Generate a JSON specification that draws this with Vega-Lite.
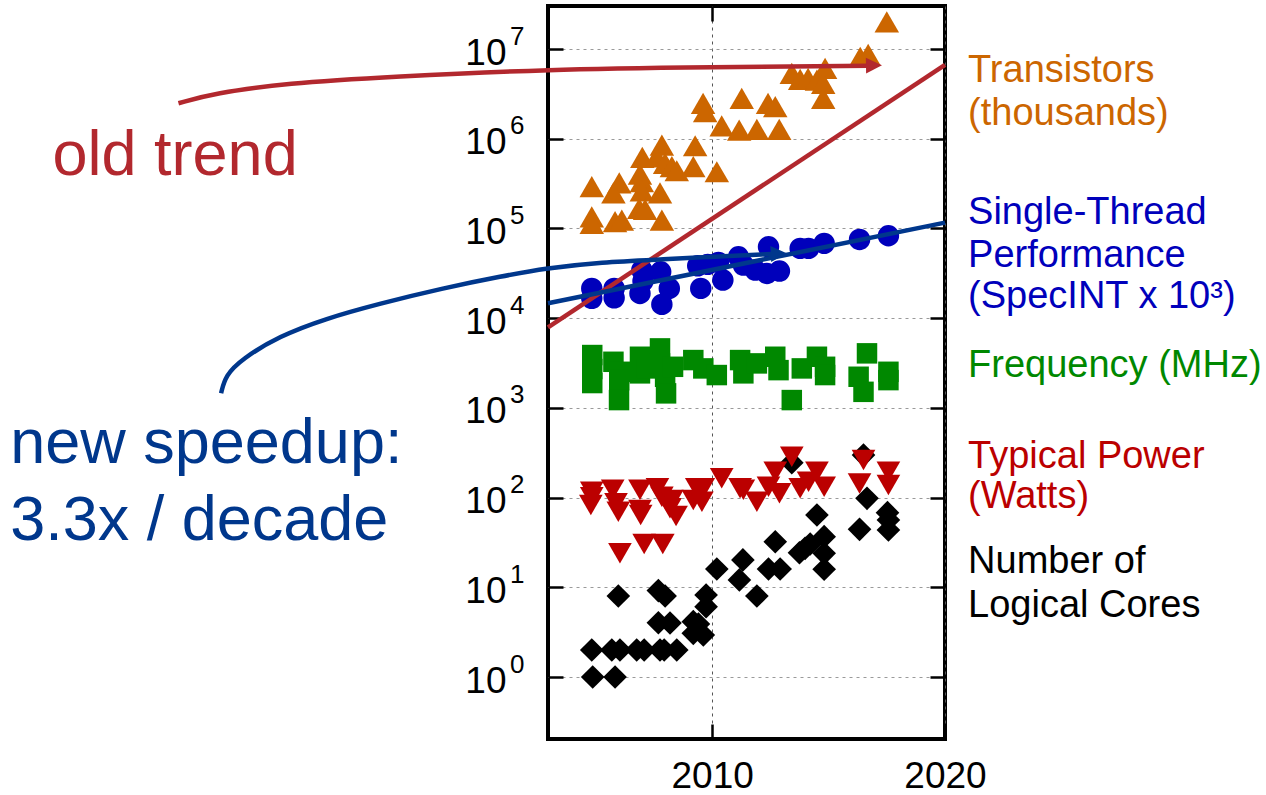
{
  "$schema": "https://vega.github.io/schema/vega-lite/v6.json",
  "width": 397,
  "height": 733,
  "autosize": {"type": "none"},
  "padding": {"left": 548, "top": 6, "right": 321, "bottom": 56},
  "background": "white",
  "config": {
    "view": {"stroke": "black", "strokeWidth": 4},
    "font": "Liberation Sans, Arial, Helvetica, sans-serif",
    "axis": {"labelFont": "Liberation Sans, Arial, Helvetica, sans-serif", "labelColor": "black", "tickColor": "black", "tickWidth": 2.5, "domain": false, "title": null, "labelFlush": false, "labelOverlap": false, "labelBound": false}
  },
  "datasets": {
    "points": [
      {"series": "Cores", "year": 2004.87, "value": 1.0},
      {"series": "Cores", "year": 2005.83, "value": 1.0},
      {"series": "Cores", "year": 2004.83, "value": 2},
      {"series": "Cores", "year": 2005.69, "value": 2},
      {"series": "Cores", "year": 2006.04, "value": 2},
      {"series": "Cores", "year": 2006.76, "value": 2},
      {"series": "Cores", "year": 2007.08, "value": 2},
      {"series": "Cores", "year": 2007.76, "value": 2},
      {"series": "Cores", "year": 2007.94, "value": 2},
      {"series": "Cores", "year": 2008.48, "value": 2},
      {"series": "Cores", "year": 2005.97, "value": 8.0},
      {"series": "Cores", "year": 2007.69, "value": 9.2},
      {"series": "Cores", "year": 2007.98, "value": 8.0},
      {"series": "Cores", "year": 2007.69, "value": 4.03},
      {"series": "Cores", "year": 2008.19, "value": 4.0},
      {"series": "Cores", "year": 2009.19, "value": 4.14},
      {"series": "Cores", "year": 2009.41, "value": 3.9},
      {"series": "Cores", "year": 2009.19, "value": 3.07},
      {"series": "Cores", "year": 2009.62, "value": 2.94},
      {"series": "Cores", "year": 2009.74, "value": 8.2},
      {"series": "Cores", "year": 2009.74, "value": 6.08},
      {"series": "Cores", "year": 2010.20, "value": 16.0},
      {"series": "Cores", "year": 2011.17, "value": 12.1},
      {"series": "Cores", "year": 2011.32, "value": 20.2},
      {"series": "Cores", "year": 2011.92, "value": 8.0},
      {"series": "Cores", "year": 2012.42, "value": 16},
      {"series": "Cores", "year": 2012.92, "value": 16},
      {"series": "Cores", "year": 2012.71, "value": 32.2},
      {"series": "Cores", "year": 2013.42, "value": 245},
      {"series": "Cores", "year": 2016.50, "value": 298},
      {"series": "Cores", "year": 2013.75, "value": 24.3},
      {"series": "Cores", "year": 2013.99, "value": 27.2},
      {"series": "Cores", "year": 2014.21, "value": 30.4},
      {"series": "Cores", "year": 2014.50, "value": 64},
      {"series": "Cores", "year": 2014.81, "value": 36.7},
      {"series": "Cores", "year": 2014.81, "value": 23.9},
      {"series": "Cores", "year": 2014.81, "value": 15.9},
      {"series": "Cores", "year": 2016.65, "value": 98.2},
      {"series": "Cores", "year": 2016.33, "value": 44.3},
      {"series": "Cores", "year": 2017.53, "value": 67.9},
      {"series": "Cores", "year": 2017.57, "value": 56.3},
      {"series": "Cores", "year": 2017.57, "value": 43.5},
      {"series": "Frequency", "year": 2004.85, "value": 3882},
      {"series": "Frequency", "year": 2004.85, "value": 2710},
      {"series": "Frequency", "year": 2004.85, "value": 1892},
      {"series": "Frequency", "year": 2005.76, "value": 3265},
      {"series": "Frequency", "year": 2006.04, "value": 2525},
      {"series": "Frequency", "year": 2006.01, "value": 2040},
      {"series": "Frequency", "year": 2006.00, "value": 1222},
      {"series": "Frequency", "year": 2006.90, "value": 3715},
      {"series": "Frequency", "year": 2006.90, "value": 2427},
      {"series": "Frequency", "year": 2007.19, "value": 2755},
      {"series": "Frequency", "year": 2007.76, "value": 4604},
      {"series": "Frequency", "year": 2007.76, "value": 3133},
      {"series": "Frequency", "year": 2007.98, "value": 2223},
      {"series": "Frequency", "year": 2008.02, "value": 1452},
      {"series": "Frequency", "year": 2008.32, "value": 2871},
      {"series": "Frequency", "year": 2009.19, "value": 3412},
      {"series": "Frequency", "year": 2009.62, "value": 2755},
      {"series": "Frequency", "year": 2010.20, "value": 2323},
      {"series": "Frequency", "year": 2011.20, "value": 3412},
      {"series": "Frequency", "year": 2011.34, "value": 2427},
      {"series": "Frequency", "year": 2011.92, "value": 3133},
      {"series": "Frequency", "year": 2012.71, "value": 3715},
      {"series": "Frequency", "year": 2012.85, "value": 2636},
      {"series": "Frequency", "year": 2013.42, "value": 1222},
      {"series": "Frequency", "year": 2013.85, "value": 2755},
      {"series": "Frequency", "year": 2014.50, "value": 3715},
      {"series": "Frequency", "year": 2014.85, "value": 2871},
      {"series": "Frequency", "year": 2014.85, "value": 2323},
      {"series": "Frequency", "year": 2016.65, "value": 4055},
      {"series": "Frequency", "year": 2016.29, "value": 2223},
      {"series": "Frequency", "year": 2016.50, "value": 1510},
      {"series": "Frequency", "year": 2017.57, "value": 2525},
      {"series": "Frequency", "year": 2017.57, "value": 2040},
      {"series": "Performance", "year": 2004.83, "value": 21480},
      {"series": "Performance", "year": 2004.83, "value": 16630},
      {"series": "Performance", "year": 2005.79, "value": 21480},
      {"series": "Performance", "year": 2005.79, "value": 16870},
      {"series": "Performance", "year": 2006.90, "value": 18880},
      {"series": "Performance", "year": 2006.98, "value": 34360},
      {"series": "Performance", "year": 2007.03, "value": 25930},
      {"series": "Performance", "year": 2007.79, "value": 32890},
      {"series": "Performance", "year": 2008.16, "value": 21480},
      {"series": "Performance", "year": 2007.84, "value": 14250},
      {"series": "Performance", "year": 2009.38, "value": 38370},
      {"series": "Performance", "year": 2009.81, "value": 39800},
      {"series": "Performance", "year": 2010.27, "value": 41900},
      {"series": "Performance", "year": 2009.51, "value": 21480},
      {"series": "Performance", "year": 2010.46, "value": 26610},
      {"series": "Performance", "year": 2011.13, "value": 48300},
      {"series": "Performance", "year": 2011.34, "value": 39070},
      {"series": "Performance", "year": 2011.85, "value": 34360},
      {"series": "Performance", "year": 2012.42, "value": 62520},
      {"series": "Performance", "year": 2012.35, "value": 31550},
      {"series": "Performance", "year": 2012.89, "value": 33500},
      {"series": "Performance", "year": 2013.78, "value": 59980},
      {"series": "Performance", "year": 2014.14, "value": 59980},
      {"series": "Performance", "year": 2014.81, "value": 68230},
      {"series": "Performance", "year": 2016.33, "value": 75550},
      {"series": "Performance", "year": 2017.57, "value": 82980},
      {"series": "Transistors", "year": 2017.50, "value": 20100000},
      {"series": "Transistors", "year": 2016.36, "value": 8070000},
      {"series": "Transistors", "year": 2016.70, "value": 8730000},
      {"series": "Transistors", "year": 2013.42, "value": 5360000},
      {"series": "Transistors", "year": 2013.78, "value": 4590000},
      {"series": "Transistors", "year": 2014.12, "value": 4710000},
      {"series": "Transistors", "year": 2014.50, "value": 4510000},
      {"series": "Transistors", "year": 2014.85, "value": 6100000},
      {"series": "Transistors", "year": 2014.77, "value": 4150000},
      {"series": "Transistors", "year": 2014.77, "value": 2820000},
      {"series": "Transistors", "year": 2009.61, "value": 2480000},
      {"series": "Transistors", "year": 2009.70, "value": 2000000},
      {"series": "Transistors", "year": 2011.27, "value": 2820000},
      {"series": "Transistors", "year": 2012.40, "value": 2480000},
      {"series": "Transistors", "year": 2012.71, "value": 2280000},
      {"series": "Transistors", "year": 2010.41, "value": 1390000},
      {"series": "Transistors", "year": 2011.16, "value": 1250000},
      {"series": "Transistors", "year": 2011.92, "value": 1270000},
      {"series": "Transistors", "year": 2012.88, "value": 1270000},
      {"series": "Transistors", "year": 2007.84, "value": 851000},
      {"series": "Transistors", "year": 2009.27, "value": 836000},
      {"series": "Transistors", "year": 2007.00, "value": 621000},
      {"series": "Transistors", "year": 2007.62, "value": 630000},
      {"series": "Transistors", "year": 2007.98, "value": 532000},
      {"series": "Transistors", "year": 2008.27, "value": 488000},
      {"series": "Transistors", "year": 2008.48, "value": 440000},
      {"series": "Transistors", "year": 2009.19, "value": 488000},
      {"series": "Transistors", "year": 2010.20, "value": 429000},
      {"series": "Transistors", "year": 2006.90, "value": 404000},
      {"series": "Transistors", "year": 2006.98, "value": 332000},
      {"series": "Transistors", "year": 2006.98, "value": 263000},
      {"series": "Transistors", "year": 2004.83, "value": 292000},
      {"series": "Transistors", "year": 2006.01, "value": 323000},
      {"series": "Transistors", "year": 2005.76, "value": 250000},
      {"series": "Transistors", "year": 2007.76, "value": 250000},
      {"series": "Transistors", "year": 2006.87, "value": 167000},
      {"series": "Transistors", "year": 2007.12, "value": 163000},
      {"series": "Transistors", "year": 2004.83, "value": 135000},
      {"series": "Transistors", "year": 2004.83, "value": 114000},
      {"series": "Transistors", "year": 2005.83, "value": 119000},
      {"series": "Transistors", "year": 2006.12, "value": 124000},
      {"series": "Transistors", "year": 2007.84, "value": 124000},
      {"series": "Power", "year": 2004.83, "value": 116},
      {"series": "Power", "year": 2004.83, "value": 101},
      {"series": "Power", "year": 2004.79, "value": 82.7},
      {"series": "Power", "year": 2005.73, "value": 122},
      {"series": "Power", "year": 2005.87, "value": 86.4},
      {"series": "Power", "year": 2005.97, "value": 69.6},
      {"series": "Power", "year": 2006.04, "value": 23.9},
      {"series": "Power", "year": 2006.90, "value": 122},
      {"series": "Power", "year": 2006.90, "value": 72.7},
      {"series": "Power", "year": 2006.93, "value": 64.0},
      {"series": "Power", "year": 2007.08, "value": 30.4},
      {"series": "Power", "year": 2007.65, "value": 127},
      {"series": "Power", "year": 2007.84, "value": 102},
      {"series": "Power", "year": 2008.05, "value": 90},
      {"series": "Power", "year": 2008.27, "value": 94},
      {"series": "Power", "year": 2008.19, "value": 76},
      {"series": "Power", "year": 2008.45, "value": 62.4},
      {"series": "Power", "year": 2007.88, "value": 30.4},
      {"series": "Power", "year": 2009.19, "value": 94},
      {"series": "Power", "year": 2009.34, "value": 127},
      {"series": "Power", "year": 2009.62, "value": 127},
      {"series": "Power", "year": 2009.56, "value": 90},
      {"series": "Power", "year": 2010.41, "value": 164},
      {"series": "Power", "year": 2011.20, "value": 127},
      {"series": "Power", "year": 2011.34, "value": 122},
      {"series": "Power", "year": 2011.92, "value": 90},
      {"series": "Power", "year": 2012.42, "value": 132},
      {"series": "Power", "year": 2012.71, "value": 194},
      {"series": "Power", "year": 2012.89, "value": 112},
      {"series": "Power", "year": 2013.42, "value": 286},
      {"series": "Power", "year": 2013.78, "value": 127},
      {"series": "Power", "year": 2014.14, "value": 150},
      {"series": "Power", "year": 2014.50, "value": 194},
      {"series": "Power", "year": 2014.81, "value": 132},
      {"series": "Power", "year": 2016.50, "value": 263},
      {"series": "Power", "year": 2016.33, "value": 144},
      {"series": "Power", "year": 2017.57, "value": 194},
      {"series": "Power", "year": 2017.57, "value": 138}
    ],
    "trends": [
      {"series": "old", "year": 2002.95, "value": 7920},
      {"series": "old", "year": 2020, "value": 6650000},
      {"series": "new", "year": 2002.95, "value": 14660},
      {"series": "new", "year": 2020, "value": 116100}
    ],
    "arrows": [
      {"series": "old", "year": 1987.08, "value": 2489000},
      {"series": "old", "year": 1988.61, "value": 3216000},
      {"series": "old", "year": 1991.68, "value": 4156000},
      {"series": "old", "year": 1996.29, "value": 4923000},
      {"series": "old", "year": 2002.88, "value": 5958000},
      {"series": "old", "year": 2010.05, "value": 6270000},
      {"series": "old", "year": 2016.70, "value": 6516000},
      {"series": "new", "year": 1988.91, "value": 1455},
      {"series": "new", "year": 1989.10, "value": 2300},
      {"series": "new", "year": 1989.80, "value": 3500},
      {"series": "new", "year": 1991.40, "value": 6300},
      {"series": "new", "year": 1993.40, "value": 9900},
      {"series": "new", "year": 1995.70, "value": 14500},
      {"series": "new", "year": 1998.40, "value": 21500},
      {"series": "new", "year": 2001.00, "value": 29500},
      {"series": "new", "year": 2002.88, "value": 35980},
      {"series": "new", "year": 2005.18, "value": 42000},
      {"series": "new", "year": 2008.05, "value": 45360},
      {"series": "new", "year": 2010.05, "value": 48510},
      {"series": "new", "year": 2012.53, "value": 51990}
    ],
    "heads": [
      {"series": "old", "year": 2016.95, "value": 6560000},
      {"series": "new", "year": 2012.86, "value": 52360}
    ],
    "labels": [
      {"series": "Transistors", "text": "Transistors", "year": 2020.99, "value": 4330000},
      {"series": "Transistors", "text": "(thousands)", "year": 2020.99, "value": 1426000},
      {"series": "Performance", "text": "Single-Thread", "year": 2020.99, "value": 111400},
      {"series": "Performance", "text": "Performance", "year": 2020.99, "value": 36900},
      {"series": "Performance", "text": "(SpecINT x 10³)", "year": 2020.99, "value": 12890},
      {"series": "Frequency", "text": "Frequency (MHz)", "year": 2020.99, "value": 2228},
      {"series": "Power", "text": "Typical Power", "year": 2020.99, "value": 215.4},
      {"series": "Power", "text": "(Watts)", "year": 2020.99, "value": 76.0},
      {"series": "Cores", "text": "Number of", "year": 2020.99, "value": 14.32},
      {"series": "Cores", "text": "Logical Cores", "year": 2020.99, "value": 4.70}
    ],
    "notes": [
      {"series": "old", "text": "old trend", "year": 1981.67, "value": 395000},
      {"series": "new", "text": "new speedup:", "year": 1979.85, "value": 241},
      {"series": "new", "text": "3.3x / decade", "year": 1979.85, "value": 33.7}
    ]
  },
  "encoding": {
    "x": {"field": "year", "type": "quantitative", "scale": {"domain": [2002.95, 2020], "nice": false, "zero": false}},
    "y": {"field": "value", "type": "quantitative", "scale": {"type": "log", "domain": [0.2037, 30200000], "nice": false}},
    "color": {"field": "series", "type": "nominal", "legend": null, "scale": {"domain": ["Transistors", "Performance", "Frequency", "Power", "Cores", "old", "new"], "range": ["#CC6600", "#0000BB", "#008800", "#BB0000", "#000000", "#B2282E", "#00378C"]}}
  },
  "layer": [
    {
      "data": {"name": "points"},
      "mark": {"type": "point", "filled": true, "opacity": 1, "strokeWidth": 0},
      "encoding": {
        "x": {"field": "year", "type": "quantitative", "axis": {"orient": "bottom", "values": [2010, 2020], "format": "d", "labelFontSize": 37, "labelPadding": 34, "tickSize": -15, "grid": true, "gridColor": "#555555", "gridDash": [3, 4], "gridWidth": 1}},
        "y": {"field": "value", "type": "quantitative", "axis": {"orient": "left", "values": [1, 10, 100, 1000, 10000, 100000, 1000000, 10000000], "labelExpr": "'10'", "labelFontSize": 37, "labelPadding": 57, "labelOffset": 4, "tickSize": -15, "grid": true, "gridColor": "#9a9a9a", "gridDash": [3, 4], "gridWidth": 1}},
        "shape": {"field": "series", "type": "nominal", "legend": null, "scale": {"domain": ["Transistors", "Performance", "Frequency", "Power", "Cores"], "range": ["triangle-up", "circle", "square", "triangle-down", "diamond"]}},
        "size": {"field": "series", "type": "nominal", "legend": null, "scale": {"type": "ordinal", "domain": ["Transistors", "Performance", "Frequency", "Power", "Cores"], "range": [600, 460, 420, 560, 560]}}
      }
    },
    {
      "data": {"name": "trends"},
      "mark": {"type": "line", "strokeWidth": 4.5},
      "encoding": {
        "x": {"field": "year", "type": "quantitative", "axis": {"orient": "top", "values": [2010], "labels": false, "tickSize": -15, "grid": false}},
        "y": {"field": "value", "type": "quantitative", "axis": {"orient": "right", "values": [1, 10, 100, 1000, 10000, 100000, 1000000, 10000000], "labels": false, "tickSize": -15, "grid": false}}
      }
    },
    {
      "data": {"name": "arrows"},
      "mark": {"type": "line", "strokeWidth": 4.5, "interpolate": "basis", "clip": false},
      "encoding": {
        "x": {"field": "year", "type": "quantitative", "axis": null},
        "y": {"field": "value", "type": "quantitative", "axis": null}
      }
    },
    {
      "data": {"name": "heads"},
      "transform": [{"filter": "datum.series === 'old'"}],
      "mark": {"type": "point", "shape": "M-1,-1L1,0L-1,1Z", "size": 256, "filled": true, "opacity": 1, "strokeWidth": 0, "angle": -1},
      "encoding": {
        "x": {"field": "year", "type": "quantitative", "axis": null},
        "y": {"field": "value", "type": "quantitative", "axis": null}
      }
    },
    {
      "data": {"name": "heads"},
      "transform": [{"filter": "datum.series === 'new'"}],
      "mark": {"type": "point", "shape": "M-1,-1L1,0L-1,1Z", "size": 256, "filled": true, "opacity": 1, "strokeWidth": 0, "angle": -3},
      "encoding": {
        "x": {"field": "year", "type": "quantitative", "axis": null},
        "y": {"field": "value", "type": "quantitative", "axis": null}
      }
    },
    {
      "data": {"name": "labels"},
      "mark": {"type": "text", "align": "left", "baseline": "alphabetic", "fontSize": 38, "font": "Liberation Sans, Arial, Helvetica, sans-serif"},
      "encoding": {
        "x": {"field": "year", "type": "quantitative", "axis": null},
        "y": {"field": "value", "type": "quantitative", "axis": {"orient": "left", "values": [1, 10, 100, 1000, 10000, 100000, 1000000, 10000000], "labelExpr": "'' + round(log(datum.value) / LN10)", "labelFontSize": 26, "labelPadding": 39, "labelOffset": -13, "tickSize": -15, "tickOpacity": 0, "grid": false}},
        "text": {"field": "text", "type": "nominal"}
      }
    },
    {
      "data": {"name": "notes"},
      "mark": {"type": "text", "align": "left", "baseline": "alphabetic", "fontSize": 63, "font": "Liberation Sans, Arial, Helvetica, sans-serif"},
      "encoding": {
        "x": {"field": "year", "type": "quantitative", "axis": null},
        "y": {"field": "value", "type": "quantitative", "axis": null},
        "text": {"field": "text", "type": "nominal"}
      }
    }
  ],
  "resolve": {"axis": {"x": "independent", "y": "independent"}}
}
